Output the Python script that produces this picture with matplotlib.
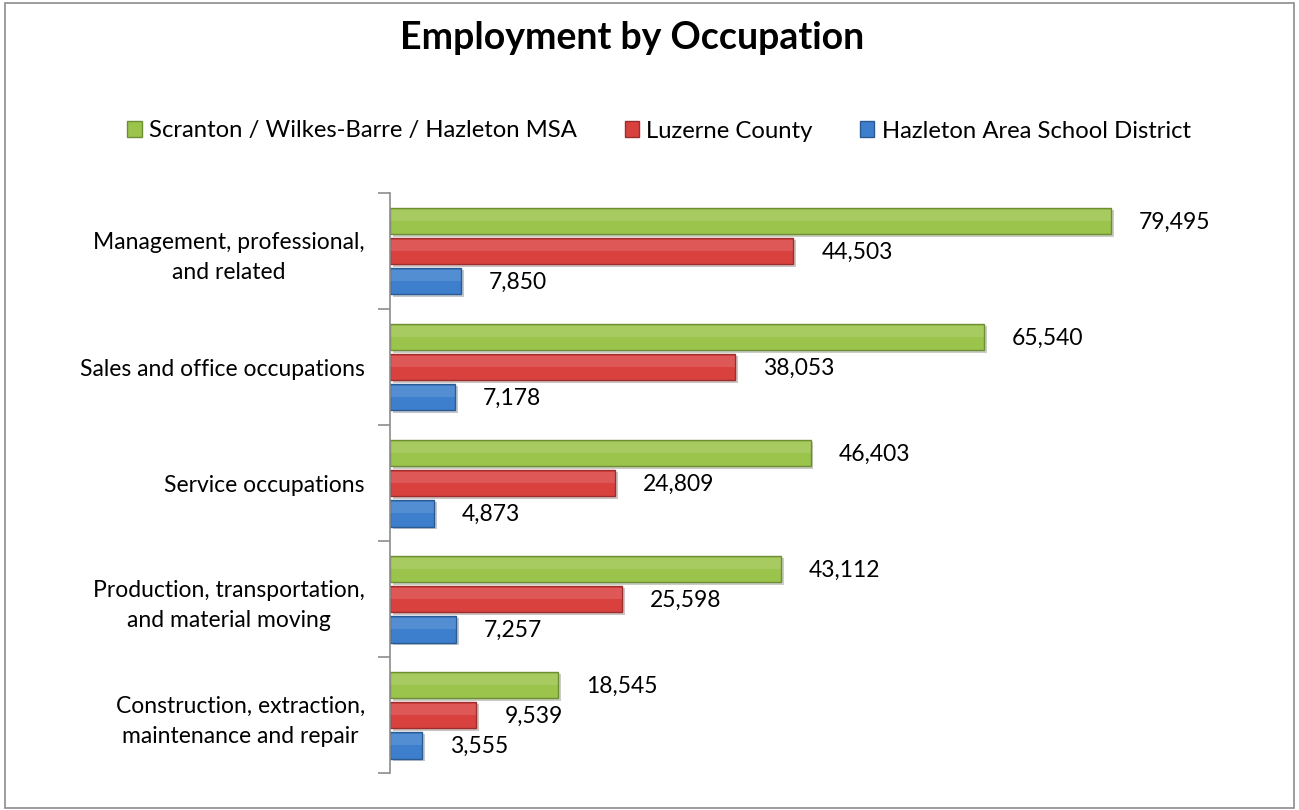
import matplotlib.pyplot as plt
import matplotlib.patheffects as pe
from matplotlib.patches import Rectangle
import numpy as np

plt.rcParams['font.family'] = ['Lato', 'DejaVu Sans']

categories = ['Management, professional,\nand related',
              'Sales and office occupations',
              'Service occupations',
              'Production, transportation,\nand material moving',
              'Construction, extraction,\nmaintenance and repair']
series = ['Scranton / Wilkes-Barre / Hazleton MSA', 'Luzerne County',
          'Hazleton Area School District']
msa = [79495, 65540, 46403, 43112, 18545]
luzerne = [44503, 38053, 24809, 25598, 9539]
hasd = [7850, 7178, 4873, 7257, 3555]

colors = ['#9BC44C', '#D9413F', '#3D7FCC']
edges = ['#6E8E35', '#9A2E2C', '#2B5A91']

fig = plt.figure(figsize=(12.99, 8.10), dpi=100)
fig.patches.append(Rectangle((0.004, 0.003), 0.992, 0.993, transform=fig.transFigure,
                             fill=False, edgecolor='#8C8C8C', linewidth=1.2))

ax = fig.add_axes([390 / 1299, 1 - 773 / 810, (1206 - 390) / 1299, (773 - 193) / 810])

n = len(categories)
y = np.arange(n)
h = 0.232
offsets = [-0.259, 0.0, 0.259]
shadow = [pe.SimplePatchShadow(offset=(2, -2), alpha=0.25), pe.Normal()]

for vals, off, c, ec in zip([msa, luzerne, hasd], offsets, colors, edges):
    bars = ax.barh(y + off, vals, height=h, color=c, edgecolor=ec, linewidth=1.0)
    for b in bars:
        b.set_path_effects(shadow)
    # soft highlight on the upper half to hint at the bevel
    ax.barh(y + off - h * 0.2, vals, height=h * 0.4, color='white', alpha=0.12, linewidth=0)
    for yi, v in zip(y + off, vals):
        ax.annotate(f'{v:,}', (v, yi), xytext=(20, -1), textcoords='offset points',
                    va='center', ha='left', fontsize=16.5)

ax.set_xlim(0, 90000)
ax.set_ylim(n - 0.5, -0.5)
ax.set_yticks(y)
ax.set_yticklabels(categories, fontsize=16.5, linespacing=1.55)
ax.set_yticks(np.arange(-0.5, n, 1), minor=True)
ax.tick_params(axis='y', which='major', length=0, pad=18)
ax.tick_params(axis='y', which='minor', length=9, color='#8C8C8C', width=1.2)
ax.set_xticks([])
for s in ['top', 'right', 'bottom']:
    ax.spines[s].set_visible(False)
ax.spines['left'].set_color('#8C8C8C')
ax.spines['left'].set_linewidth(1.2)
for lbl in ax.get_yticklabels():
    lbl.set_horizontalalignment('right')
    lbl.set_multialignment('center')

fig.text(632 / 1299, 1 - 38 / 810, 'Employment by Occupation', ha='center', va='center',
         fontsize=27, fontweight='bold')

handles = [Rectangle((0, 0), 1, 1, facecolor=c, edgecolor=ec) for c, ec in zip(colors, edges)]
fig.legend(handles, series, loc='center', bbox_to_anchor=(659 / 1299, 1 - 131 / 810),
           ncol=3, frameon=False, fontsize=17.2, handlelength=0.6, handleheight=0.6,
           handletextpad=0.3, columnspacing=2.0)

fig.savefig('out.png', dpi=100)
